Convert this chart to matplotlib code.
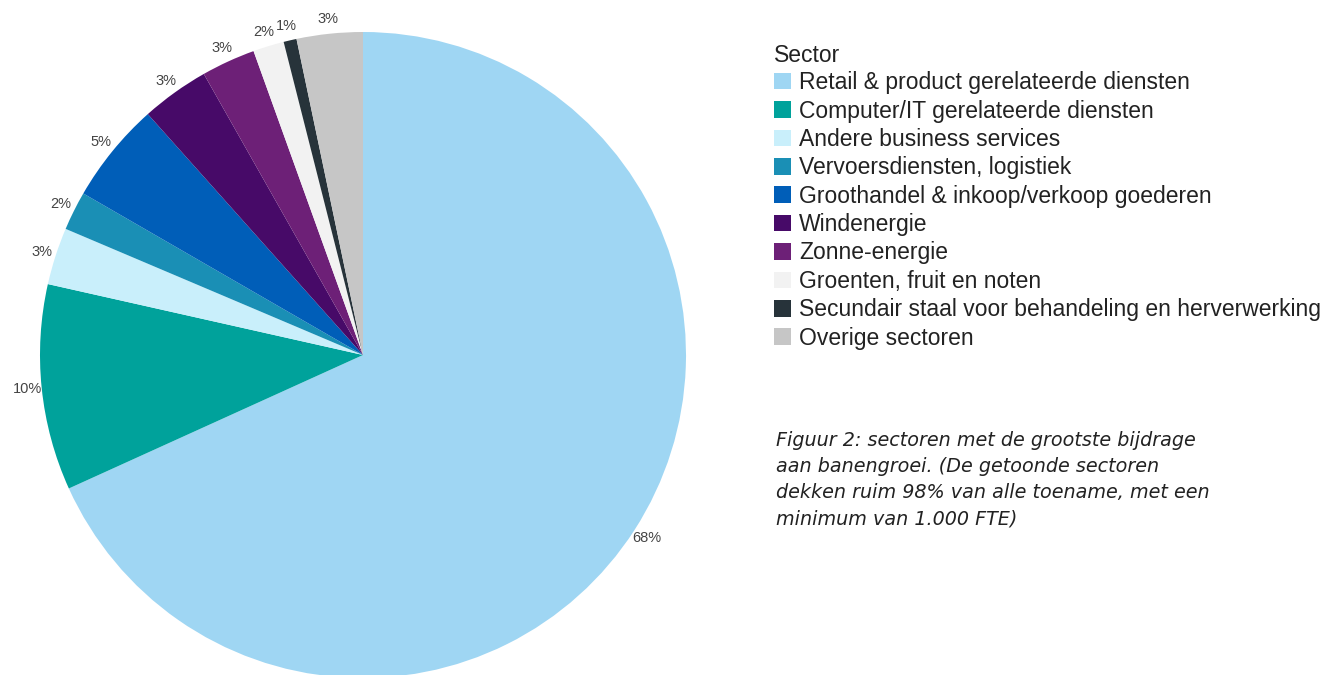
import matplotlib
matplotlib.use('Agg')
import matplotlib.pyplot as plt

plt.rcParams['font.family'] = ['Liberation Sans', 'DejaVu Sans']

categories = [
    'Retail & product gerelateerde diensten',
    'Computer/IT gerelateerde diensten',
    'Andere business services',
    'Vervoersdiensten, logistiek',
    'Groothandel & inkoop/verkoop goederen',
    'Windenergie',
    'Zonne-energie',
    'Groenten, fruit en noten',
    'Secundair staal voor behandeling en herverwerking',
    'Overige sectoren',
]
shares = [68.2, 10.3, 2.86, 1.95, 5.06, 3.4, 2.7, 1.55, 0.65, 3.3]
colors = ['#9FD6F3', '#00A29B', '#C9EFFB', '#1A8FB5', '#005EB8',
          '#470A68', '#6D2077', '#F2F2F2', '#27333A', '#C6C6C6']
legend_title = 'Sector'
caption = ('Figuur 2: sectoren met de grootste bijdrage\n'
           'aan banengroei. (De getoonde sectoren\n'
           'dekken ruim 98% van alle toename, met een\n'
           'minimum van 1.000 FTE)')

W, H = 1330, 675
fig = plt.figure(figsize=(W / 100, H / 100), dpi=100)
ax = fig.add_axes([0, 0, 1, 1])
cx, cy, r = 363, H - 355, 323

wedges, texts, autotexts = ax.pie(
    shares, colors=colors, startangle=90, counterclock=False,
    radius=r, center=(cx, cy), autopct='%.0f%%', pctdistance=1.045,
    textprops=dict(fontsize=10.5, color='#444444'),
    wedgeprops=dict(linewidth=0))
ax.set_xlim(0, W)
ax.set_ylim(0, H)
ax.set_aspect('equal')
ax.axis('off')

fs = 16.5
leg = ax.legend(wedges, categories, title=legend_title, loc='upper left',
                bbox_to_anchor=(774 / W, 1 - 44 / H), bbox_transform=fig.transFigure,
                frameon=False, fontsize=fs, title_fontsize=fs,
                handlelength=0.74, handleheight=0.74, handletextpad=0.35,
                labelspacing=0.235, borderpad=0, borderaxespad=0,
                labelcolor='#222222')
leg._legend_box.align = 'left'
leg._legend_box.sep = 3
leg.get_title().set_color('#222222')

fig.text(776 / W, 1 - 431 / H, caption, ha='left', va='top', fontsize=13.8,
         style='italic', color='#222222', linespacing=1.48,
         family=['DejaVu Sans'])

fig.savefig('out.png', dpi=100)
